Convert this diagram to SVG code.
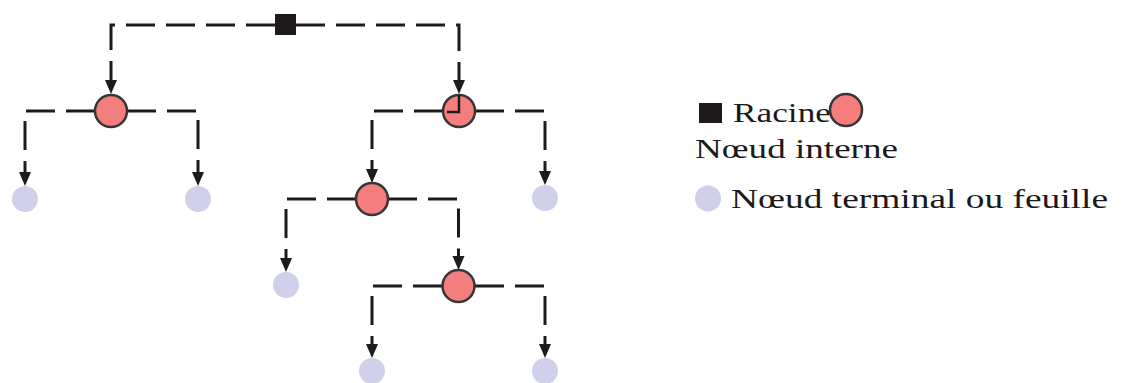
<svg xmlns="http://www.w3.org/2000/svg" width="1121" height="383" viewBox="0 0 1121 383">
  <style>
    .link { fill: none; stroke: #1c1c1c; stroke-width: 3; stroke-dasharray: 29 11; marker-end: url(#arrow); }
    .root { fill: #1e1a1a; }
    .inner { fill: #f47e7e; stroke: #363636; stroke-width: 2.5; }
    .leaf { fill: #d0d0ea; }
    .label { font-family: "Liberation Serif", "Times New Roman", serif; font-size: 28px; fill: #1a1a1a; }
  </style>
  <defs>
    <marker id="arrow" viewBox="0 -7 14 14" refX="0" refY="0" markerWidth="14" markerHeight="14" markerUnits="userSpaceOnUse" orient="auto">
      <path d="M0,-6 L14,0 L0,6 z" fill="#1c1c1c"/>
    </marker>
  </defs>

  <!-- connectors: dashed elbows from parent to child -->
  <g id="connectors">
    <path class="link" d="M275 25 H111 V80"/>
    <path class="link" d="M296 25 H459 V80"/>
    <path class="link" d="M95 111 H25 V172"/>
    <path class="link" d="M127 111 H198 V172"/>
    <path class="link" d="M443 111 H372 V169"/>
    <path class="link" d="M475 111 H545 V171"/>
    <path class="link" d="M356 199 H286 V258"/>
    <path class="link" d="M388 199 H458.5 V256"/>
    <path class="link" d="M442 286 H372 V344"/>
    <path class="link" d="M475 286 H545 V344"/>
  </g>

  <!-- tree nodes -->
  <g id="root"><rect class="root" x="275" y="14" width="21" height="21"/></g>
  <g id="n1"><circle class="inner" cx="111" cy="111" r="16"/></g>
  <g id="n2">
    <circle class="inner" cx="459" cy="111" r="16"/>
    <path d="M459 95 V112 H447" fill="none" stroke="#1c1c1c" stroke-width="2.5"/>
  </g>
  <g id="n3"><circle class="inner" cx="372" cy="199" r="16"/></g>
  <g id="n4"><circle class="inner" cx="458.5" cy="286" r="16"/></g>
  <g id="l1"><circle class="leaf" cx="25" cy="199" r="13"/></g>
  <g id="l2"><circle class="leaf" cx="198" cy="199" r="13"/></g>
  <g id="l3"><circle class="leaf" cx="545" cy="198" r="13"/></g>
  <g id="l4"><circle class="leaf" cx="286" cy="285" r="13"/></g>
  <g id="l5"><circle class="leaf" cx="372" cy="371" r="13"/></g>
  <g id="l6"><circle class="leaf" cx="545" cy="371" r="13"/></g>

  <!-- legend -->
  <g id="legend">
    <rect class="root" x="699" y="103" width="23" height="20"/>
    <text class="label" x="733" y="122" textLength="98" lengthAdjust="spacingAndGlyphs">Racine</text>
    <circle class="inner" cx="846" cy="110" r="16"/>
    <text class="label" x="695" y="158" textLength="203" lengthAdjust="spacingAndGlyphs">Nœud interne</text>
    <circle class="leaf" cx="708" cy="198.5" r="13"/>
    <text class="label" x="731" y="208" textLength="377" lengthAdjust="spacingAndGlyphs">Nœud terminal ou feuille</text>
  </g>
</svg>
